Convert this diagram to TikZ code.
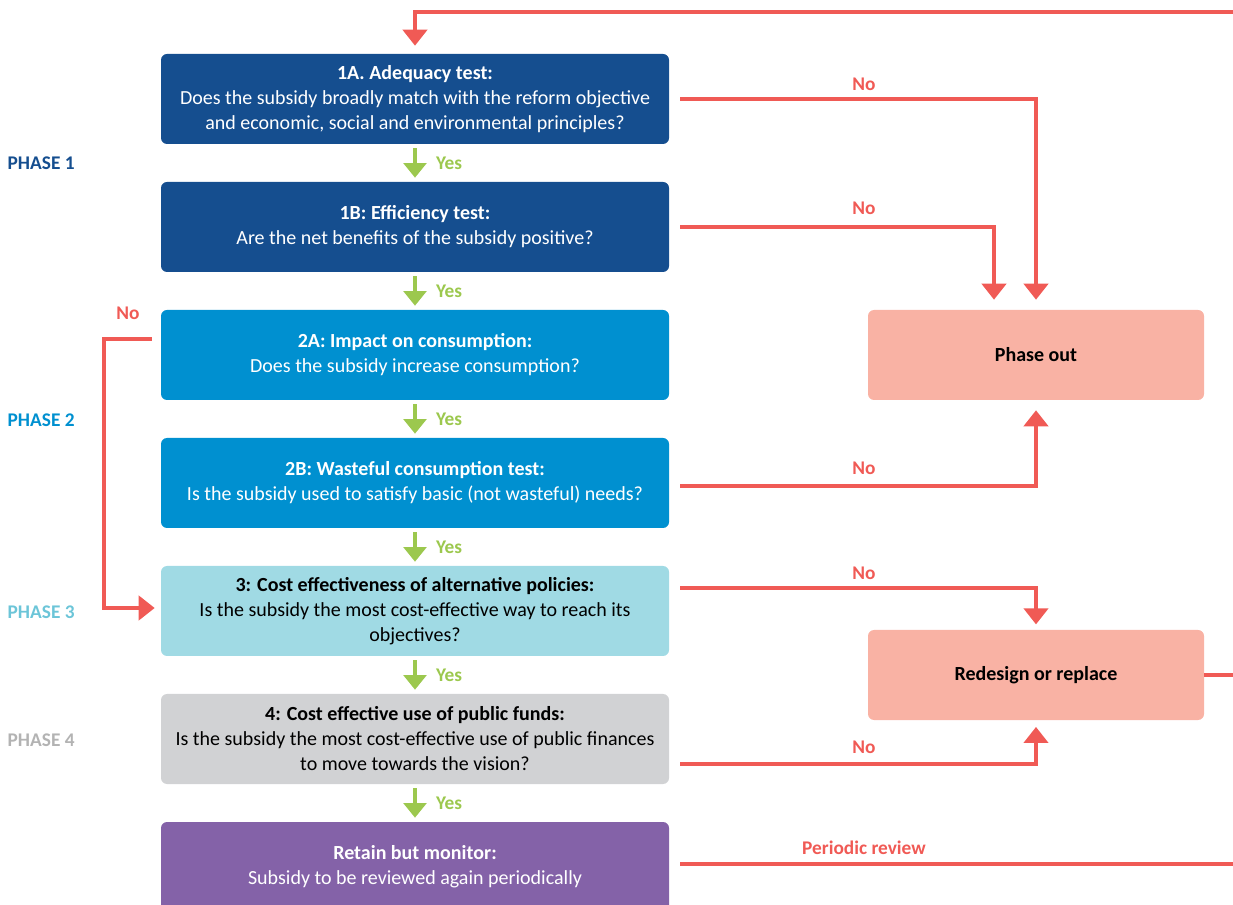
\documentclass[tikz,border=0pt]{standalone}
\usepackage{fontspec}
\setmainfont{Carlito}
\usetikzlibrary{arrows.meta,positioning,calc}

\definecolor{phaseone}{RGB}{21,78,143}
\definecolor{phasetwo}{RGB}{0,144,208}
\definecolor{phasethree}{RGB}{160,218,228}
\definecolor{phasethreetext}{RGB}{108,197,216}
\definecolor{phasefour}{RGB}{209,210,212}
\definecolor{phasefourtext}{RGB}{179,179,179}
\definecolor{retaincol}{RGB}{132,98,168}
\definecolor{outcomecol}{RGB}{249,178,164}
\definecolor{nocol}{RGB}{240,90,85}
\definecolor{yescol}{RGB}{156,200,78}

\tikzset{
  testbox/.style={rectangle, rounded corners=4.5pt, minimum width=381pt, minimum height=67.5pt,
    align=center, inner sep=0pt, font=\fontsize{15}{18.75}\selectfont},
  outcome/.style={rectangle, rounded corners=4.5pt, minimum width=252pt, minimum height=67.5pt,
    fill=outcomecol, font=\bfseries\fontsize{15}{18.75}\selectfont},
  phaselabel/.style={anchor=west, font=\bfseries\fontsize{14.5}{16}\selectfont},
  yesarrow/.style={draw=yescol, line width=3pt, -{Triangle[width=17pt,length=11pt]},
    shorten <=3pt, shorten >=3pt},
  noarrow/.style={draw=nocol, line width=3.2pt, -{Triangle[width=18pt,length=12pt]}},
  noline/.style={draw=nocol, line width=3.2pt},
  nolabel/.style={text=nocol, font=\bfseries\fontsize{14.5}{16}\selectfont},
  yeslabel/.style={text=yescol, font=\bfseries\fontsize{14.5}{16}\selectfont}
}

\begin{document}
\begin{tikzpicture}[x=0.75pt, y=-0.75pt]
  \useasboundingbox (0,0) rectangle (1233,905);
  \clip (0,0) rectangle (1233,905);

  % test boxes
  \node[testbox, fill=phaseone, text=white] (adeq) at (415,99)
    {\textbf{1A. Adequacy test:}\\Does the subsidy broadly match with the reform objective\\and economic, social and environmental principles?};
  \node[testbox, fill=phaseone, text=white] (effic) at (415,227)
    {\textbf{1B: Efficiency test:}\\Are the net benefits of the subsidy positive?};
  \node[testbox, fill=phasetwo, text=white] (consum) at (415,355)
    {\textbf{2A: Impact on consumption:}\\Does the subsidy increase consumption?};
  \node[testbox, fill=phasetwo, text=white] (waste) at (415,483)
    {\textbf{2B: Wasteful consumption test:}\\Is the subsidy used to satisfy basic (not wasteful) needs?};
  \node[testbox, fill=phasethree, text=black] (cost) at (415,611)
    {\textbf{3: Cost effectiveness of alternative policies:}\\Is the subsidy the most cost-effective way to reach its\\objectives?};
  \node[testbox, fill=phasefour, text=black] (funds) at (415,739)
    {\textbf{4: Cost effective use of public funds:}\\Is the subsidy the most cost-effective use of public finances\\to move towards the vision?};
  \node[testbox, fill=retaincol, text=white] (retain) at (415,867)
    {\textbf{Retain but monitor:}\\Subsidy to be reviewed again periodically};

  % outcomes
  \node[outcome] (phaseout) at (1036,355) {Phase out};
  \node[outcome] (redesign) at (1036,675) {Redesign or replace};

  % phases
  \node[phaselabel, text=phaseone] (ph1) at (3,163) {PHASE 1};
  \node[phaselabel, text=phasetwo] (ph2) at (3,420) {PHASE 2};
  \node[phaselabel, text=phasethreetext] (ph3) at (3,612) {PHASE 3};
  \node[phaselabel, text=phasefourtext] (ph4) at (3,740) {PHASE 4};

  % right edge
  \coordinate (topright) at (1233,12);
  \coordinate (retainout) at ($(retain.east)+(0,-3)$);

  % yes arrows
  \foreach \a/\b in {adeq/effic, effic/consum, consum/waste, waste/cost, cost/funds, funds/retain}
    \draw[yesarrow] (\a) -- (\b) node[midway, yeslabel, right=11pt] {Yes};

  % no arrows
  \draw[noarrow, shorten <=8.25pt, shorten >=7.5pt] (adeq.east) -| (phaseout.north);
  \draw[noarrow, shorten <=8.25pt, shorten >=7.5pt] (effic.east) -| ($(phaseout.north)+(-42,0)$);
  \draw[noarrow, shorten <=8.25pt, shorten >=7.5pt] ($(waste.east)+(0,3)$) -| (phaseout.south);
  \draw[noarrow, shorten <=8.25pt, shorten >=4pt] ($(cost.east)+(0,-23)$) -| (redesign.north);
  \draw[noarrow, shorten <=8.25pt, shorten >=5pt] ($(funds.east)+(0,25)$) -| (redesign.south);
  \draw[noarrow, shorten <=6.75pt, shorten >=4.5pt] ($(consum.west)+(0,-16)$) -- ++(-57,0) |- ($(cost.west)+(0,-3)$);

  \node[nolabel] (no1a) at (864,84) {No};
  \node[nolabel] (no1b) at (864,208) {No};
  \node[nolabel] (no2a) at (128,313) {No};
  \node[nolabel] (no2b) at (864,468) {No};
  \node[nolabel] (no3) at (864,573) {No};
  \node[nolabel] (no4) at (864,747) {No};

  % feedback
  \draw[noline, shorten <=8.25pt] (retainout) -- (retainout -| topright);
  \node[nolabel] (review) at (864,848) {Periodic review};
  \draw[noline] (redesign.east) -- (redesign.east -| topright);
  \draw[noarrow, shorten >=6pt] (topright) -| (adeq.north);
\end{tikzpicture}
\end{document}
